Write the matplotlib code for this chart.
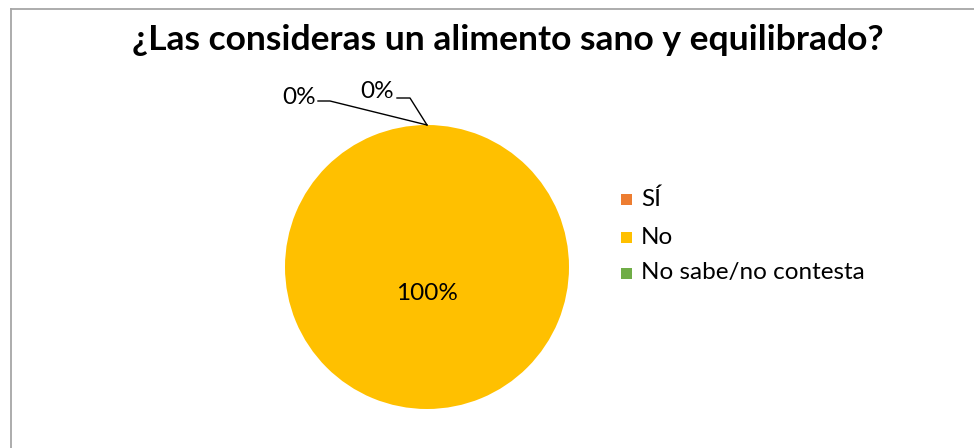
import matplotlib
matplotlib.use("Agg")
import matplotlib.pyplot as plt
from matplotlib.patches import Rectangle
import numpy as np

categories = ["SÍ", "No", "No sabe/no contesta"]
values = [0, 100, 0]
colors = ["#ED7D31", "#FFC000", "#70AD47"]
title = "¿Las consideras un alimento sano y equilibrado?"

plt.rcParams['font.family'] = ['Lato', 'DejaVu Sans']

fig = plt.figure(figsize=(9.74, 4.48), dpi=100)
W, H = 974, 448

def px(x, y):
    return x / W, 1 - y / H

# chart area border (left and top only, rest is cut off)
fig.add_artist(plt.Line2D([11 / W, 11 / W], [0, 1 - 9.5 / H], transform=fig.transFigure,
                          color="#a6a6a6", linewidth=1.3))
fig.add_artist(plt.Line2D([11 / W, 1], [1 - 9.5 / H, 1 - 9.5 / H], transform=fig.transFigure,
                          color="#a6a6a6", linewidth=1.3))

fig.text(*px(508, 40), title, ha="center", va="center", fontsize=25.5, fontweight="bold")

cx, cy, r = 427, 267, 142
ax = fig.add_axes([(cx - r) / W, (H - cy - r) / H, 2 * r / W, 2 * r / H])
wedges, _ = ax.pie(values, colors=colors, startangle=90, counterclock=False,
                   radius=1, wedgeprops=dict(linewidth=0))
ax.set_xlim(-1, 1)
ax.set_ylim(-1, 1)
ax.set_aspect("equal")
ax.axis("off")

total = sum(values)
pct = [v / total * 100 for v in values]

fs = 17.5

# centre label for the big slice
ax.text(0, -0.19, f"{pct[1]:.0f}%", ha="center", va="center", fontsize=fs)

# leader lines for the empty slices, anchored at the wedge edge
label_pos = {0: (299, 97), 2: (377, 91)}
elbow = {0: [(318, 101), (330, 101)], 2: [(397, 98), (410, 98)]}
for i in (0, 2):
    w = wedges[i]
    ang = np.deg2rad((w.theta1 + w.theta2) / 2)
    ax_pt = (np.cos(ang), np.sin(ang))
    disp = ax.transData.transform(ax_pt)
    fx, fy = fig.transFigure.inverted().transform(disp)
    (x0, y0), (x1, y1) = elbow[i]
    fig.add_artist(plt.Line2D([x0 / W, x1 / W, fx], [1 - y0 / H, 1 - y1 / H, fy],
                              transform=fig.transFigure, color="black", linewidth=1))
    fig.text(*px(*label_pos[i]), f"{pct[i]:.0f}%", ha="center", va="center", fontsize=fs)

# legend
leg_y = [199, 237, 273]
for name, col, y in zip(categories, colors, leg_y):
    fig.patches.append(Rectangle(px(621, y + 6), 11 / W, 11 / H, transform=fig.transFigure,
                                 facecolor=col, edgecolor="none"))
    fig.text(*px(641, y), name, ha="left", va="center", fontsize=fs)

fig.savefig("out.png", dpi=100)
